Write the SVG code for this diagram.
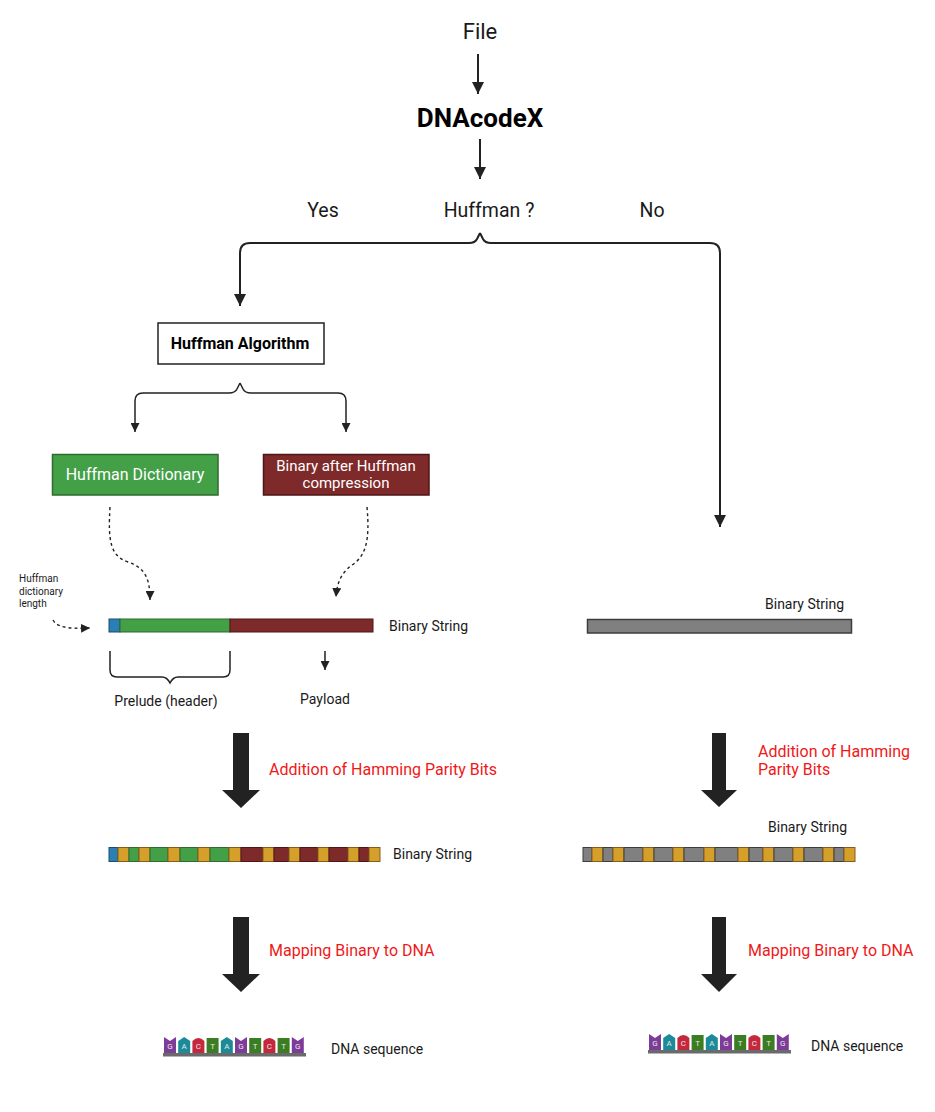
<svg xmlns="http://www.w3.org/2000/svg" width="935" height="1112" viewBox="0 0 935 1112">
<defs>
<style>
text{font-family:Roboto,"Liberation Sans",sans-serif;fill:#1a1a1a}
.t14{font-size:14px}
.t16{font-size:16px}
.t19{font-size:19.5px}
.red{fill:#f01818;font-size:16px}
.ln{fill:none;stroke:#222;stroke-width:2}
.thin{fill:none;stroke:#222;stroke-width:1.5}
.dash{fill:none;stroke:#222;stroke-width:1.4;stroke-dasharray:3 3}
.big{fill:#222}
.blue{fill:#2a7fb5;stroke:#1d4e6e;stroke-width:1}
.grn{fill:#43a047;stroke:#2e6b2e;stroke-width:1}
.rd{fill:#7f2a2a;stroke:#4e1616;stroke-width:1}
.or{fill:#d4a02a;stroke:#8a5a1a;stroke-width:1}
.gr{fill:#808080;stroke:#3d3d3d;stroke-width:1}
.nt{font-size:8px;fill:#e8e8e8;text-anchor:middle}
.G{fill:#7d3c98}.A{fill:#1b8a99}.C{fill:#c5283d}.T{fill:#3b7d23}
</style>
<marker id="ah" markerUnits="userSpaceOnUse" markerWidth="12" markerHeight="12" viewBox="0 0 12 12" refX="12" refY="6" orient="auto"><path d="M0,0 L12,6 L0,12 Z" fill="#222"/></marker>
<marker id="ahs" markerUnits="userSpaceOnUse" markerWidth="9" markerHeight="9" viewBox="0 0 9 9" refX="9" refY="4.5" orient="auto"><path d="M0,0 L9,4.5 L0,9 Z" fill="#222"/></marker>
<path id="tG" d="M0,0 L6,4 L12,0 V16 H0 Z"/>
<path id="tA" d="M0,4 L6,0 L12,4 V16 H0 Z"/>
<path id="tC" d="M0,4 Q6,-2 12,4 V16 H0 Z"/>
<path id="tT" d="M0,1 H12 V16 H0 Z"/>
<g id="dna">
<use href="#tG" class="G" x="0"/><text class="nt" x="6" y="12">G</text>
<use href="#tA" class="A" x="14.2"/><text class="nt" x="20.2" y="12">A</text>
<use href="#tC" class="C" x="28.4"/><text class="nt" x="34.4" y="12">C</text>
<use href="#tT" class="T" x="42.6"/><text class="nt" x="48.6" y="12">T</text>
<use href="#tA" class="A" x="56.8"/><text class="nt" x="62.8" y="12">A</text>
<use href="#tG" class="G" x="71"/><text class="nt" x="77" y="12">G</text>
<use href="#tT" class="T" x="85.2"/><text class="nt" x="91.2" y="12">T</text>
<use href="#tC" class="C" x="99.4"/><text class="nt" x="105.4" y="12">C</text>
<use href="#tT" class="T" x="113.6"/><text class="nt" x="119.6" y="12">T</text>
<use href="#tG" class="G" x="127.8"/><text class="nt" x="133.8" y="12">G</text>
<rect x="-1" y="16" width="143" height="3.5" fill="#6a6a6a"/>
</g>
</defs>

<g id="connectors">
<line class="ln" x1="478" y1="54" x2="478" y2="94" marker-end="url(#ah)"/>
<line class="ln" x1="480" y1="139" x2="480" y2="179" marker-end="url(#ah)"/>
<path class="ln" d="M480,233 L477,239 Q475,243 469,243 L250,243 Q240,243 240,253 L240,306" marker-end="url(#ah)"/>
<path class="ln" d="M480,233 L483,239 Q485,243 491,243 L710,243 Q720,243 720,253 L720,527" marker-end="url(#ah)"/>
<path class="thin" d="M240,383 L237,389 Q235,393 229,393 L143,393 Q135,393 135,401 L135,432" marker-end="url(#ahs)"/>
<path class="thin" d="M240,383 L243,389 Q245,393 251,393 L338,393 Q346,393 346,401 L346,432" marker-end="url(#ahs)"/>
<path class="dash" d="M110,507 C108,540 110,556 128,562 C146,568 150,580 150,600" marker-end="url(#ahs)"/>
<path class="dash" d="M367,507 C370,540 366,556 352,565 C340,574 337,584 336,597" marker-end="url(#ahs)"/>
<path class="dash" d="M53,620 C57,627 66,629 90,628" marker-end="url(#ahs)"/>
<path class="thin" d="M110,651 L110,670 Q110,677 117,677 L162,677 Q167,677 170,683 Q173,677 178,677 L223,677 Q230,677 230,670 L230,651"/>
<line class="thin" x1="325" y1="651" x2="325" y2="670" marker-end="url(#ahs)"/>
<path class="big" d="M233,733 H249 V790 H260 L241,808 L222,790 H233 Z"/>
<path class="big" d="M233,917 H249 V974 H260 L241,992 L222,974 H233 Z"/>
<path class="big" d="M712,733 H726 V790 H737 L719,807 L701,790 H712 Z"/>
<path class="big" d="M712,917 H726 V974 H737 L719,992 L701,974 H712 Z"/>
</g>

<g id="file"><text x="480" y="39" font-size="22" text-anchor="middle">File</text></g>
<g id="dnacodex"><text x="480" y="127" font-size="26" font-weight="bold" text-anchor="middle" style="fill:#000">DNAcodeX</text></g>
<g id="decision">
<text class="t19" x="323" y="217" text-anchor="middle">Yes</text>
<text class="t19" x="489" y="217" text-anchor="middle">Huffman ?</text>
<text class="t19" x="652" y="217" text-anchor="middle">No</text>
</g>

<g id="huffman-algorithm">
<rect x="158" y="323" width="166" height="41" fill="#fff" stroke="#222" stroke-width="1.5"/>
<text x="240" y="349" font-size="16" font-weight="bold" text-anchor="middle" style="fill:#000">Huffman Algorithm</text>
</g>

<g id="huffman-dictionary">
<rect x="52.5" y="454.5" width="165.5" height="40.5" fill="#43a047" stroke="#2e6b2e" stroke-width="1.5"/>
<text x="135" y="480" font-size="16" text-anchor="middle" style="fill:#fff">Huffman Dictionary</text>
</g>

<g id="binary-after-huffman">
<rect x="263.5" y="454.5" width="165.5" height="40.5" fill="#7f2a2a" stroke="#4e1616" stroke-width="1.5"/>
<text x="346" y="471" font-size="15" text-anchor="middle" style="fill:#fff">Binary after Huffman</text>
<text x="346" y="488" font-size="15" text-anchor="middle" style="fill:#fff">compression</text>
</g>

<g id="dict-length-label">
<text x="19" y="582" font-size="10">Huffman</text>
<text x="19" y="595" font-size="10">dictionary</text>
<text x="19" y="607" font-size="10">length</text>
</g>

<g id="binary-string-left">
<rect class="blue" x="109" y="619" width="11" height="13"/>
<rect class="grn" x="120" y="619" width="110" height="13"/>
<rect class="rd" x="230" y="619" width="143" height="13"/>
<text class="t14" x="389" y="631">Binary String</text>
<text class="t14" x="166" y="706" text-anchor="middle">Prelude (header)</text>
<text class="t14" x="325" y="704" text-anchor="middle">Payload</text>
</g>

<g id="binary-string-right">
<text class="t14" x="765" y="609">Binary String</text>
<rect class="gr" x="587.5" y="619.5" width="264" height="13.5" style="stroke-width:1.5"/>
</g>

<g id="hamming-left">
<text class="red" x="269" y="775">Addition of Hamming Parity Bits</text>
<rect class="blue" x="109" y="847.5" width="9" height="14"/>
<rect class="or" x="118" y="847.5" width="11" height="14"/>
<rect class="grn" x="129" y="847.5" width="10" height="14"/>
<rect class="or" x="139" y="847.5" width="11" height="14"/>
<rect class="grn" x="150" y="847.5" width="18" height="14"/>
<rect class="or" x="168" y="847.5" width="12" height="14"/>
<rect class="grn" x="180" y="847.5" width="18" height="14"/>
<rect class="or" x="198" y="847.5" width="12" height="14"/>
<rect class="grn" x="210" y="847.5" width="19" height="14"/>
<rect class="or" x="229" y="847.5" width="12" height="14"/>
<rect class="rd" x="241" y="847.5" width="22" height="14"/>
<rect class="or" x="263" y="847.5" width="11" height="14"/>
<rect class="rd" x="274" y="847.5" width="15" height="14"/>
<rect class="or" x="289" y="847.5" width="11" height="14"/>
<rect class="rd" x="300" y="847.5" width="18" height="14"/>
<rect class="or" x="318" y="847.5" width="11" height="14"/>
<rect class="rd" x="329" y="847.5" width="19" height="14"/>
<rect class="or" x="348" y="847.5" width="11" height="14"/>
<rect class="rd" x="359" y="847.5" width="10" height="14"/>
<rect class="or" x="369" y="847.5" width="11" height="14"/>
<text class="t14" x="393" y="859">Binary String</text>
</g>

<g id="hamming-right">
<text class="red" x="758" y="757">Addition of Hamming</text>
<text class="red" x="758" y="775">Parity Bits</text>
<text class="t14" x="768" y="832">Binary String</text>
<rect class="gr" x="583" y="847.5" width="9" height="14"/>
<rect class="or" x="592" y="847.5" width="11" height="14"/>
<rect class="gr" x="603" y="847.5" width="10" height="14"/>
<rect class="or" x="613" y="847.5" width="11" height="14"/>
<rect class="gr" x="624" y="847.5" width="19" height="14"/>
<rect class="or" x="643" y="847.5" width="11" height="14"/>
<rect class="gr" x="654" y="847.5" width="19" height="14"/>
<rect class="or" x="673" y="847.5" width="11" height="14"/>
<rect class="gr" x="684" y="847.5" width="20" height="14"/>
<rect class="or" x="704" y="847.5" width="11" height="14"/>
<rect class="gr" x="715" y="847.5" width="23" height="14"/>
<rect class="or" x="738" y="847.5" width="11" height="14"/>
<rect class="gr" x="749" y="847.5" width="14" height="14"/>
<rect class="or" x="763" y="847.5" width="11" height="14"/>
<rect class="gr" x="774" y="847.5" width="19" height="14"/>
<rect class="or" x="793" y="847.5" width="11" height="14"/>
<rect class="gr" x="804" y="847.5" width="19" height="14"/>
<rect class="or" x="823" y="847.5" width="11" height="14"/>
<rect class="gr" x="834" y="847.5" width="10" height="14"/>
<rect class="or" x="844" y="847.5" width="11" height="14"/>
</g>

<g id="mapping-left"><text class="red" x="269" y="956">Mapping Binary to DNA</text></g>
<g id="mapping-right"><text class="red" x="748" y="956">Mapping Binary to DNA</text></g>

<g id="dna-left">
<use href="#dna" x="164" y="1037"/>
<text class="t14" x="331" y="1054">DNA sequence</text>
</g>
<g id="dna-right">
<use href="#dna" x="649" y="1034"/>
<text class="t14" x="811" y="1051">DNA sequence</text>
</g>
</svg>
